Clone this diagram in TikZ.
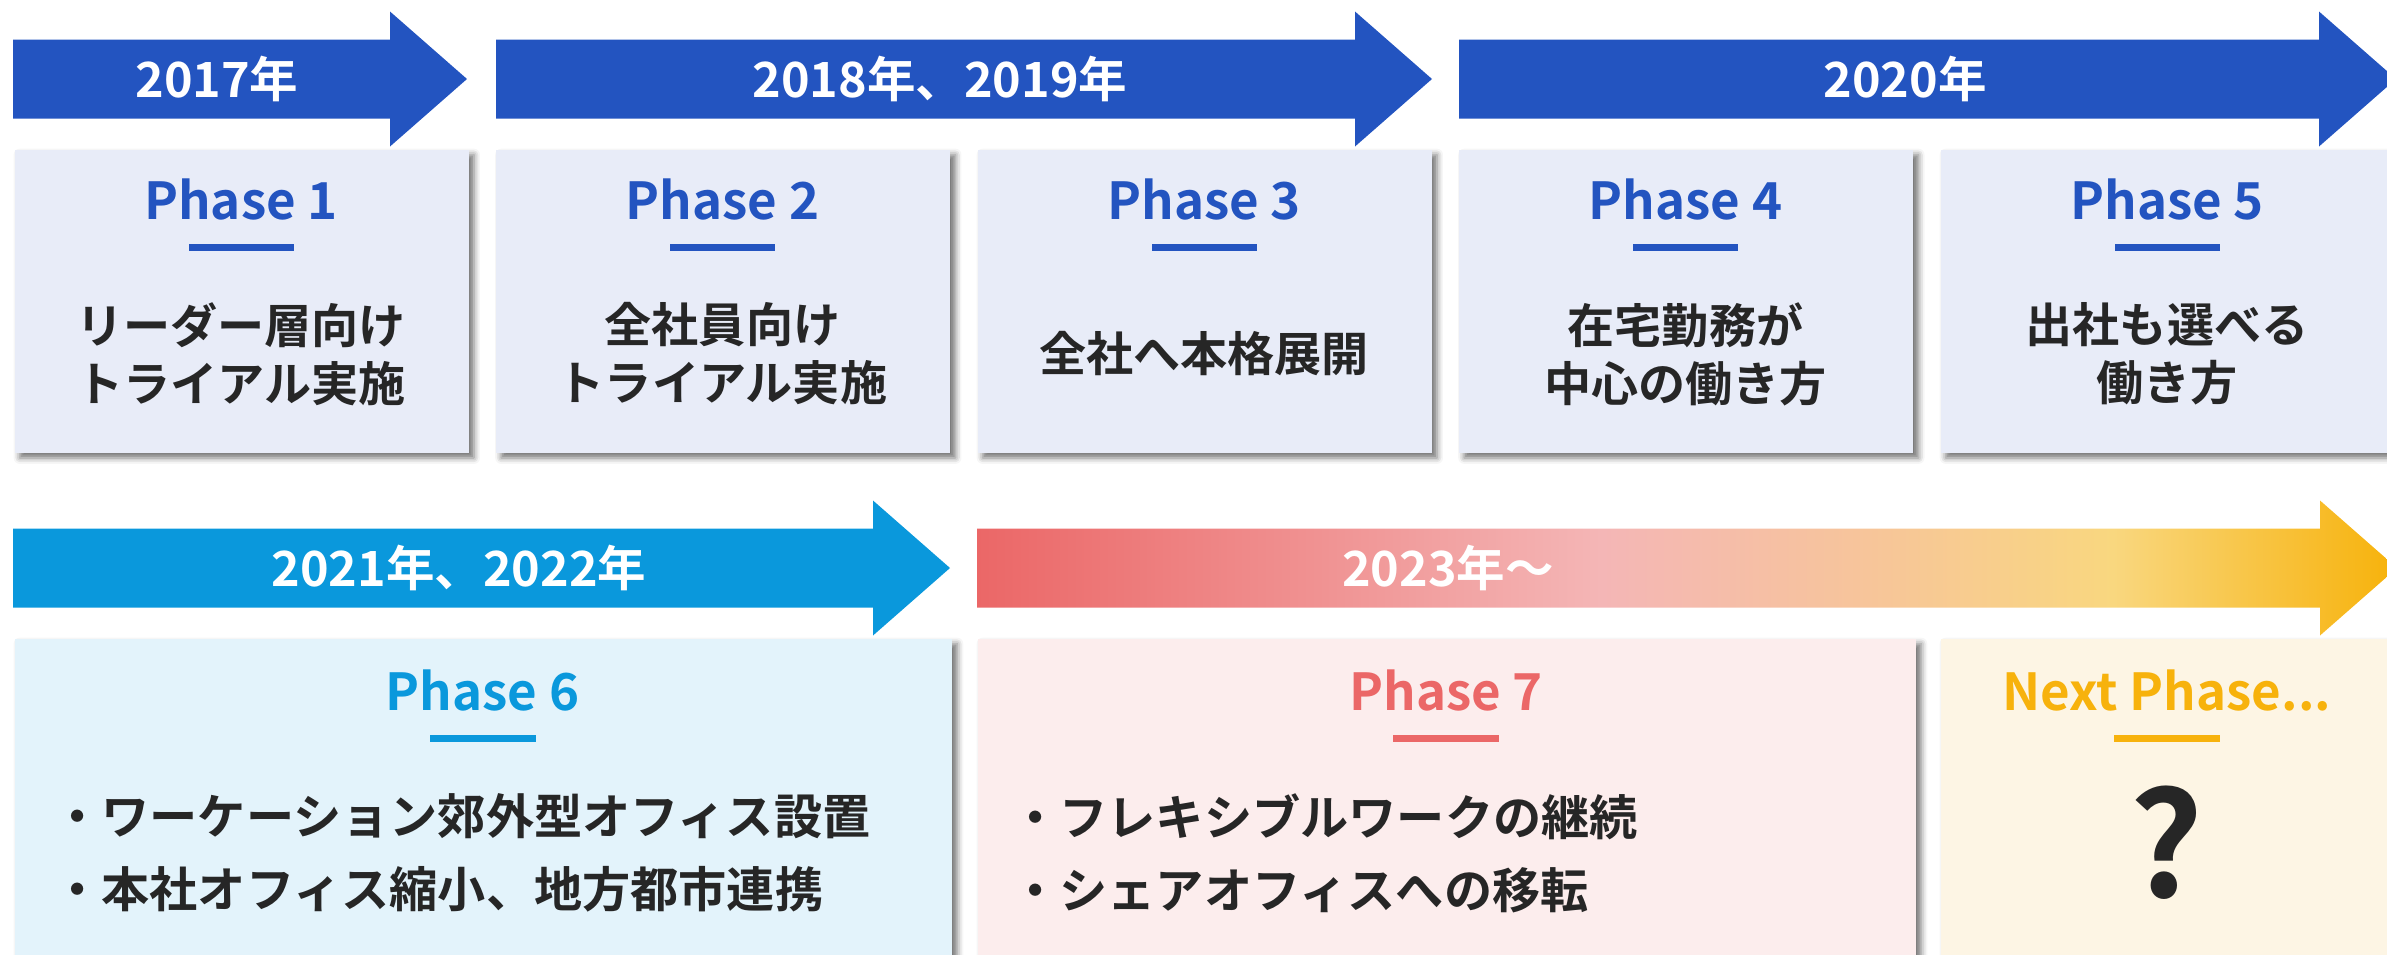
\documentclass[tikz,border=0pt]{standalone}
\usepackage{fontspec}
\setmainfont{Noto Sans CJK JP}[BoldFont={* Bold}]
\usetikzlibrary{shadows.blur}
\definecolor{dblue}{HTML}{2354C0}
\definecolor{lblue}{HTML}{0A98DC}
\definecolor{boxtop}{HTML}{E8ECF8}
\definecolor{boxsix}{HTML}{E3F3FB}
\definecolor{boxseven}{HTML}{FCEDED}
\definecolor{boxeight}{HTML}{FDF5E4}
\definecolor{redc}{HTML}{EB6767}
\definecolor{goldc}{HTML}{F7B20C}
\definecolor{txt}{HTML}{262626}
\definecolor{gA}{HTML}{EB6767}
\definecolor{gB}{HTML}{F4B6B6}
\definecolor{gC}{HTML}{F7C698}
\definecolor{gD}{HTML}{F9D77F}
\definecolor{gE}{HTML}{F7B20A}
\pgfdeclarehorizontalshading{sunset}{100bp}{color(0bp)=(gA); color(25bp)=(gA); color(47bp)=(gB); color(57bp)=(gC); color(65bp)=(gD); color(75bp)=(gE); color(100bp)=(gE)}
\newcommand\tlarrow[4]{%
  \path[#4] (#1,#3-39.5) -- (#2,#3-39.5) -- (#2,#3-67.5) -- (#2+77,#3) -- (#2,#3+67.5) -- (#2,#3+39.5) -- (#1,#3+39.5) -- cycle;}
\tikzset{
  boxnode/.style={draw=none, inner sep=0pt, anchor=north west,
    blur shadow={shadow xshift=0.05cm, shadow yshift=-0.05cm, shadow blur radius=0.06cm, shadow opacity=55}},
  yearlbl/.style={text=white, font=\bfseries\fontsize{13.8}{16}\selectfont},
  phaselbl/.style={font=\bfseries\fontsize{14.5}{17}\selectfont},
  bodytxt/.style={text=txt, font=\bfseries\fontsize{13.4}{16.5}\selectfont, align=center},
  bullettxt/.style={text=txt, font=\bfseries\fontsize{13.7}{20.8}\selectfont, align=left, anchor=west},
  qmark/.style={text=txt, font=\bfseries\fontsize{41}{44}\selectfont},
}
\begin{document}
\begin{tikzpicture}[x=0.01cm, y=-0.01cm]
\useasboundingbox (0,0) rectangle (2387,954);
% arrows top
\tlarrow{13}{390}{79}{fill=dblue}
\tlarrow{496}{1355}{79}{fill=dblue}
\tlarrow{1459}{2319}{79}{fill=dblue}
% arrows bottom
\tlarrow{13}{873}{568}{fill=lblue}
\tlarrow{977}{2320}{568}{shade, shading=sunset}
% year labels
\node[yearlbl] (y1) at (217,79) {2017年};
\node[yearlbl] (y2) at (940,79) {2018年、2019年};
\node[yearlbl] (y3) at (1905,79) {2020年};
\node[yearlbl] (y4) at (459,568) {2021年、2022年};
\node[yearlbl] (y5) at (1448,568) {2023年～};
% top boxes
\node[boxnode, fill=boxtop, minimum width=4.54cm, minimum height=3.03cm] (b1) at (14,149) {};
\node[boxnode, fill=boxtop, minimum width=4.54cm, minimum height=3.03cm] (b2) at (495.5,149) {};
\node[boxnode, fill=boxtop, minimum width=4.54cm, minimum height=3.03cm] (b3) at (977,149) {};
\node[boxnode, fill=boxtop, minimum width=4.54cm, minimum height=3.03cm] (b4) at (1458.5,149) {};
\node[boxnode, fill=boxtop, minimum width=4.54cm, minimum height=3.03cm] (b5) at (1940,149) {};
% bottom boxes
\node[boxnode, fill=boxsix, minimum width=9.37cm, minimum height=3.4cm] (b6) at (14,638) {};
\node[boxnode, fill=boxseven, minimum width=9.38cm, minimum height=3.4cm] (b7) at (977,638) {};
\node[boxnode, fill=boxeight, minimum width=4.6cm, minimum height=3.4cm] (b8) at (1940,638) {};
% top headings
\foreach \n/\cx in {1/241, 2/722.5, 3/1204, 4/1685.5, 5/2167} {
  \node[phaselbl, text=dblue] (p\n) at (\cx,200) {Phase \n};
  \fill[dblue] (\cx-52.5,244) rectangle (\cx+52.5,251);
}
\node[bodytxt] (t1) at (241,354) {リーダー層向け\\トライアル実施};
\node[bodytxt] (t2) at (722.5,354) {全社員向け\\トライアル実施};
\node[bodytxt] (t3) at (1204,354) {全社へ本格展開};
\node[bodytxt] (t4) at (1685.5,354) {在宅勤務が\\中心の働き方};
\node[bodytxt] (t5) at (2167,354) {出社も選べる\\働き方};
% bottom headings
\node[phaselbl, text=lblue] (p6) at (482.5,691) {Phase 6};
\fill[lblue] (429.5,735) rectangle (535.5,742);
\node[phaselbl, text=redc] (p7) at (1446,691) {Phase 7};
\fill[redc] (1393,735) rectangle (1499,742);
\node[phaselbl, text=goldc] (p8) at (2167,691) {Next Phase...};
\fill[goldc] (2114,735) rectangle (2220,742);
% bottom texts
\node[bullettxt] (t6) at (41,853) {・ワーケーション郊外型オフィス設置\\・本社オフィス縮小、地方都市連携};
\node[bullettxt] (t7) at (999,853) {・フレキシブルワークの継続\\・シェアオフィスへの移転};
\node[qmark] (t8) at (2167,843) {?};
\end{tikzpicture}
\end{document}
